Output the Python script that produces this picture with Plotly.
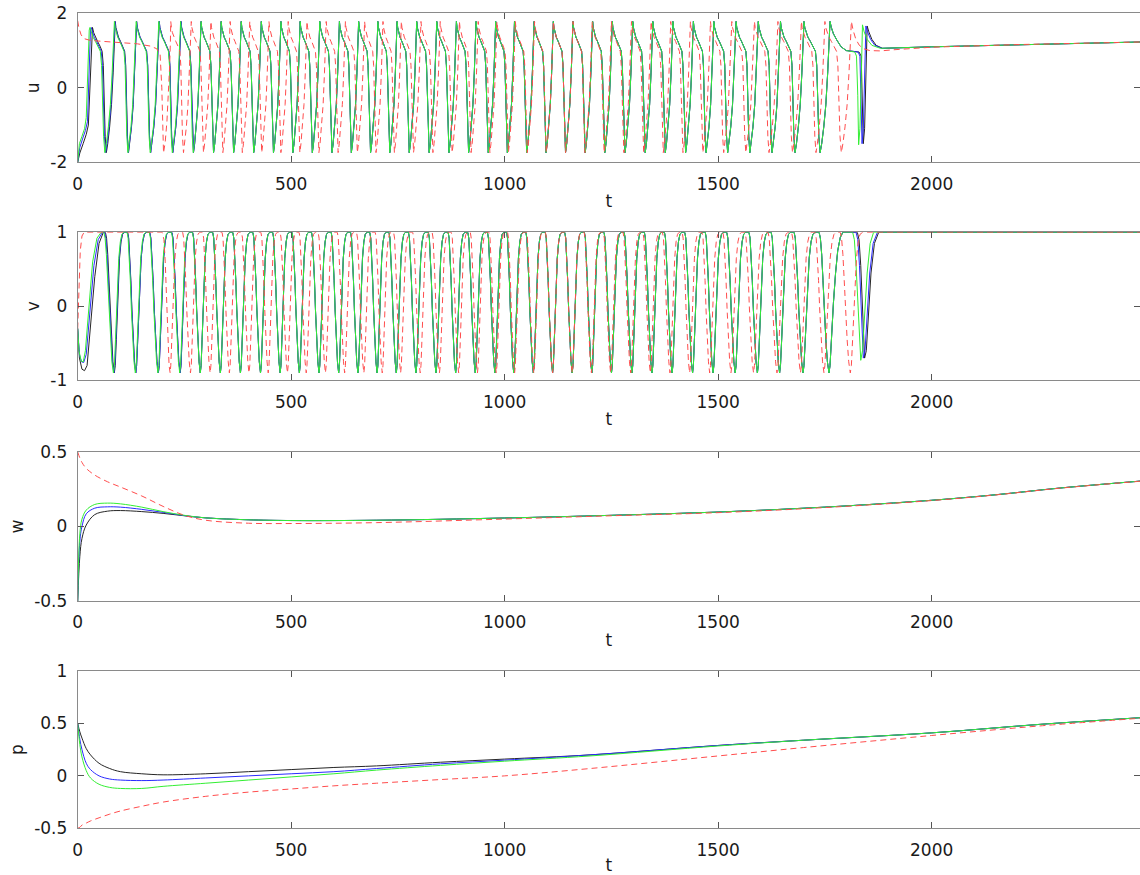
import plotly.graph_objects as go
from plotly.subplots import make_subplots

# ---------------- data ----------------
# times of the u maxima (one per oscillation cycle)
BLACK_PEAKS = [33, 88, 138, 191, 242, 289, 336, 383, 430, 476, 521, 567, 613, 658, 703, 748, 794, 841,
               887, 933, 979, 1023, 1069, 1114, 1160, 1206, 1252, 1300, 1347, 1394, 1442, 1490, 1542,
               1594, 1646, 1701, 1762]
BLUE_PEAKS = [30, 87, 138, 191, 242, 289, 336, 383, 430, 476, 521, 567, 613, 658, 703, 748, 794, 841,
              887, 933, 979, 1023, 1069, 1114, 1160, 1206, 1252, 1300, 1347, 1394, 1442, 1490, 1542,
              1594, 1646, 1701, 1762]
GREEN_PEAKS = [27, 86, 137, 190, 241, 289, 336, 383, 430, 476, 521, 567, 613, 658, 703, 748, 794, 841,
               887, 933, 979, 1023, 1069, 1114, 1160, 1206, 1252, 1300, 1347, 1394, 1442, 1490, 1542,
               1594, 1646, 1701, 1762]
RED_PEAKS = [218, 266, 312, 357, 403, 448, 493, 537, 582, 627, 672, 715, 758, 804, 849, 894, 938, 982,
             1025, 1070, 1114, 1160, 1205, 1250, 1297, 1343, 1389, 1435, 1482, 1532, 1585, 1640, 1695,
             1750, 1812]

# one oscillation cycle (phase 0 = u maximum, phase 1 = next u maximum)
U_CYCLE_PHASE = [0.00, 0.03, 0.08, 0.15, 0.25, 0.35, 0.44, 0.49, 0.53, 0.57, 0.62, 0.68, 0.76, 0.84, 0.91, 0.96, 1.00]
U_CYCLE_VALUE = [1.78, 1.62, 1.48, 1.36, 1.24, 1.12, 0.98, 0.60, -0.40, -1.30, -1.74, -1.50, -1.05, -0.45, 0.40, 1.20, 1.78]
V_CYCLE_PHASE = [0.00, 0.05, 0.10, 0.15, 0.20, 0.27, 0.34, 0.42, 0.58, 0.63, 0.68, 0.73, 0.78, 0.84, 0.90, 0.96, 1.00]
V_CYCLE_VALUE = [-0.80, -0.45, -0.05, 0.35, 0.65, 0.87, 0.97, 1.00, 1.00, 0.92, 0.70, 0.35, -0.05, -0.45, -0.75, -0.90, -0.80]

# start transients
BLACK_U_START_T = [0, 5, 13, 20, 25, 29, 33]
BLACK_U_START = [-2.0, -1.75, -1.49, -1.25, -1.0, 0.3, 1.6]
BLUE_U_START_T = [0, 5, 12, 18, 23, 26, 30]
BLUE_U_START = [-2.0, -1.6, -1.35, -1.15, -0.9, 0.3, 1.58]
GREEN_U_START_T = [0, 4, 10, 16, 20, 23, 27]
GREEN_U_START = [-2.0, -1.5, -1.3, -1.1, -0.8, 0.4, 1.55]
RED_U_START_T = [0, 3, 8, 15, 30, 60, 100, 140, 170, 185, 193, 197, 201, 205, 209, 212, 215, 217, 218]
RED_U_START = [1.8, 1.6, 1.42, 1.32, 1.27, 1.25, 1.22, 1.18, 1.12, 1.05, 0.9, 0.0, -1.75, -1.45, -0.9, -0.3, 0.5, 1.2, 1.78]

BLACK_V_START_T = [0, 4, 10, 16, 22, 30, 40, 50, 60]
BLACK_V_START = [-0.3, -0.7, -0.85, -0.87, -0.8, -0.3, 0.4, 0.85, 1.0]
BLUE_V_START_T = [0, 4, 9, 14, 20, 28, 38, 48, 58]
BLUE_V_START = [-0.3, -0.65, -0.75, -0.76, -0.65, -0.1, 0.55, 0.9, 1.0]
GREEN_V_START_T = [0, 3, 8, 13, 18, 26, 35, 45, 55]
GREEN_V_START = [-0.3, -0.6, -0.74, -0.75, -0.6, 0.0, 0.6, 0.92, 1.0]
RED_V_START_T = [0, 3, 6, 10, 15, 198, 202, 205, 208, 211, 214, 216.5, 218]
RED_V_START = [-0.3, 0.3, 0.75, 0.95, 1.0, 1.0, 0.9, 0.6, 0.1, -0.4, -0.8, -0.9, -0.8]

# end transients
BLACK_U_TAIL_T = [1762, 1765, 1770, 1778, 1788, 1800, 1815, 1830, 1835, 1838, 1840, 1843, 1846, 1849, 1853, 1860, 1870, 1885, 2000, 2200, 2490]
BLACK_U_TAIL = [1.78, 1.62, 1.45, 1.28, 1.1, 1.0, 0.98, 0.96, 0.85, -0.2, -1.5, -1.1, 0.2, 1.66, 1.5, 1.3, 1.14, 1.06, 1.1, 1.16, 1.23]
BLUE_U_TAIL_T = [1762, 1765, 1770, 1778, 1788, 1800, 1815, 1828, 1832, 1835, 1837, 1840, 1843, 1846, 1850, 1857, 1867, 1883, 2000, 2200, 2490]
BLUE_U_TAIL = [1.78, 1.62, 1.45, 1.28, 1.1, 1.0, 0.98, 0.96, 0.85, -0.2, -1.5, -1.1, 0.2, 1.66, 1.5, 1.3, 1.14, 1.06, 1.1, 1.16, 1.23]
GREEN_U_TAIL_T = [1762, 1765, 1770, 1778, 1788, 1800, 1812, 1820, 1824, 1827, 1829, 1832, 1835, 1838, 1842, 1849, 1860, 1880, 2000, 2200, 2490]
GREEN_U_TAIL = [1.78, 1.62, 1.45, 1.28, 1.1, 1.0, 0.98, 0.96, 0.85, -0.2, -1.53, -1.1, 0.2, 1.69, 1.5, 1.3, 1.14, 1.06, 1.1, 1.16, 1.23]
RED_U_TAIL_T = [1812, 1816, 1822, 1830, 1840, 1855, 1880, 1910, 1950, 2000, 2200, 2490]
RED_U_TAIL = [1.78, 1.55, 1.32, 1.15, 1.05, 1.0, 0.99, 1.02, 1.06, 1.09, 1.16, 1.23]

BLACK_V_TAIL_T = [1762, 1765, 1770, 1775, 1780, 1786, 1792, 1826, 1830, 1834, 1838, 1843, 1847, 1852, 1858, 1866, 1876, 2490]
BLACK_V_TAIL = [-0.8, -0.45, 0.05, 0.45, 0.75, 0.93, 1.0, 1.0, 0.9, 0.55, 0.0, -0.7, -0.6, -0.1, 0.45, 0.85, 1.0, 1.0]
BLUE_V_TAIL_T = [1762, 1765, 1770, 1775, 1780, 1786, 1792, 1823, 1827, 1831, 1835, 1840, 1844, 1849, 1855, 1863, 1873, 2490]
BLUE_V_TAIL = [-0.8, -0.45, 0.05, 0.45, 0.75, 0.93, 1.0, 1.0, 0.9, 0.55, 0.0, -0.7, -0.6, -0.1, 0.45, 0.85, 1.0, 1.0]
GREEN_V_TAIL_T = [1762, 1765, 1770, 1775, 1780, 1786, 1792, 1815, 1819, 1823, 1827, 1834, 1838, 1843, 1849, 1856, 1864, 2490]
GREEN_V_TAIL = [-0.8, -0.45, 0.05, 0.45, 0.75, 0.93, 1.0, 1.0, 0.9, 0.55, 0.0, -0.73, -0.6, -0.1, 0.45, 0.85, 1.0, 1.0]
RED_V_TAIL_T = [1812, 1815, 1818, 1821, 1824, 1828, 1832, 1838, 2490]
RED_V_TAIL = [-0.8, -0.45, -0.05, 0.35, 0.65, 0.87, 0.97, 1.0, 1.0]

# w and p (smooth)
W_T = [0, 5, 10, 20, 40, 70, 100, 150, 200, 250, 300, 400, 500, 700, 1000, 1250, 1500, 1750, 2000, 2150, 2300, 2490]
BLACK_W = [-0.5, -0.2, -0.08, 0.01, 0.08, 0.103, 0.107, 0.1, 0.088, 0.072, 0.058, 0.045, 0.04, 0.042, 0.057, 0.075, 0.097, 0.13, 0.176, 0.213, 0.258, 0.305]
BLUE_W = [-0.5, -0.1, 0.0, 0.085, 0.123, 0.132, 0.13, 0.115, 0.095, 0.073, 0.058, 0.045, 0.04, 0.042, 0.057, 0.075, 0.097, 0.13, 0.176, 0.213, 0.258, 0.305]
GREEN_W = [-0.5, -0.05, 0.05, 0.11, 0.148, 0.157, 0.152, 0.13, 0.1, 0.075, 0.058, 0.045, 0.04, 0.042, 0.057, 0.075, 0.097, 0.13, 0.176, 0.213, 0.258, 0.305]
RED_W = [0.5, 0.46, 0.43, 0.39, 0.345, 0.30, 0.265, 0.205, 0.135, 0.075, 0.042, 0.022, 0.02, 0.026, 0.05, 0.072, 0.093, 0.127, 0.174, 0.212, 0.257, 0.304]

P_T = [0, 5, 10, 20, 30, 50, 75, 100, 150, 200, 300, 400, 500, 600, 700, 850, 1000, 1200, 1500, 1700, 2000, 2250, 2490]
BLACK_P = [0.5, 0.42, 0.36, 0.26, 0.2, 0.12, 0.07, 0.04, 0.02, 0.01, 0.02, 0.04, 0.06, 0.08, 0.095, 0.13, 0.16, 0.2, 0.29, 0.34, 0.41, 0.49, 0.555]
BLUE_P = [0.5, 0.35, 0.25, 0.12, 0.06, 0.0, -0.03, -0.04, -0.045, -0.04, -0.02, 0.0, 0.02, 0.04, 0.07, 0.115, 0.15, 0.2, 0.29, 0.34, 0.41, 0.49, 0.555]
GREEN_P = [0.5, 0.3, 0.18, 0.05, -0.02, -0.08, -0.11, -0.12, -0.12, -0.1, -0.07, -0.04, -0.01, 0.02, 0.055, 0.1, 0.14, 0.19, 0.285, 0.34, 0.41, 0.49, 0.555]
RED_P = [-0.5, -0.49, -0.47, -0.45, -0.43, -0.40, -0.365, -0.335, -0.29, -0.25, -0.195, -0.155, -0.125, -0.095, -0.07, -0.035, 0.0, 0.07, 0.19, 0.27, 0.385, 0.475, 0.55]

X_TICKS = [0, 500, 1000, 1500, 2000]
Y_TICKS = [[-2, 0, 2], [-1, 0, 1], [-0.5, 0, 0.5], [-0.5, 0, 0.5, 1]]
Y_TICK_TEXT = [["-2", "0", "2"], ["-1", "0", "1"], ["-0.5", "0", "0.5"], ["-0.5", "0", "0.5", "1"]]
Y_RANGES = [[-2, 2], [-1, 1], [-0.5, 0.5], [-0.5, 1]]
Y_LABELS = ["u", "v", "w", "p"]
X_RANGE = [0, 2488]


def assemble(peaks, cyc_ph, cyc_val, st_t, st_v, tl_t, tl_v):
    ts, vs = list(st_t), list(st_v)
    t_from, t_to = st_t[-1], tl_t[0]
    for a, b in zip(peaks[:-1], peaks[1:]):
        for ph, val in zip(cyc_ph[:-1], cyc_val[:-1]):
            t = a + ph * (b - a)
            if t_from < t < t_to:
                ts.append(t)
                vs.append(val)
    ts += list(tl_t)
    vs += list(tl_v)
    return ts, vs


COLORS = {"k": "#262626", "b": "#2b2bff", "g": "#33ee33", "r": "#ff4d4d"}

series = [
    ("k", BLACK_PEAKS, BLACK_U_START_T, BLACK_U_START, BLACK_U_TAIL_T, BLACK_U_TAIL,
     BLACK_V_START_T, BLACK_V_START, BLACK_V_TAIL_T, BLACK_V_TAIL, BLACK_W, BLACK_P),
    ("b", BLUE_PEAKS, BLUE_U_START_T, BLUE_U_START, BLUE_U_TAIL_T, BLUE_U_TAIL,
     BLUE_V_START_T, BLUE_V_START, BLUE_V_TAIL_T, BLUE_V_TAIL, BLUE_W, BLUE_P),
    ("g", GREEN_PEAKS, GREEN_U_START_T, GREEN_U_START, GREEN_U_TAIL_T, GREEN_U_TAIL,
     GREEN_V_START_T, GREEN_V_START, GREEN_V_TAIL_T, GREEN_V_TAIL, GREEN_W, GREEN_P),
    ("r", RED_PEAKS, RED_U_START_T, RED_U_START, RED_U_TAIL_T, RED_U_TAIL,
     RED_V_START_T, RED_V_START, RED_V_TAIL_T, RED_V_TAIL, RED_W, RED_P),
]

fig = make_subplots(rows=4, cols=1)

for (c, peaks, ust, usv, utt, utv, vst, vsv, vtt, vtv, w, p) in series:
    line = dict(color=COLORS[c], width=1)
    if c == "r":
        line["dash"] = "6px,4px"
    ut, uv = assemble(peaks, U_CYCLE_PHASE, U_CYCLE_VALUE, ust, usv, utt, utv)
    vt, vv = assemble(peaks, V_CYCLE_PHASE, V_CYCLE_VALUE, vst, vsv, vtt, vtv)
    fig.add_trace(go.Scatter(x=ut, y=uv, mode="lines", line=line, showlegend=False), row=1, col=1)
    fig.add_trace(go.Scatter(x=vt, y=vv, mode="lines", line=line, showlegend=False), row=2, col=1)
    fig.add_trace(go.Scatter(x=W_T, y=w, mode="lines", line=dict(line, shape="spline"), showlegend=False), row=3, col=1)
    fig.add_trace(go.Scatter(x=P_T, y=p, mode="lines", line=dict(line, shape="spline"), showlegend=False), row=4, col=1)

H = 875.0
panels_px = [(13.3, 162.3), (232.3, 380.3), (452.0, 601.0), (671.0, 828.3)]
FONT = dict(family="DejaVu Sans, Liberation Sans, Arial", size=17, color="#1a1a1a")

for i, (top, bot) in enumerate(panels_px):
    n = "" if i == 0 else str(i + 1)
    fig.layout["yaxis" + n].update(
        domain=[1 - bot / H, 1 - top / H], range=Y_RANGES[i],
        tickvals=Y_TICKS[i], ticktext=Y_TICK_TEXT[i],
        showline=True, mirror="ticks", linecolor="#8a8a8a", linewidth=1,
        ticks="inside", ticklen=6, tickcolor="#555555", showgrid=False, zeroline=False,
        tickfont=FONT, ticklabelstandoff=6, automargin=False,
        title=dict(text=Y_LABELS[i], font=FONT, standoff=6),
    )
    fig.layout["xaxis" + n].update(
        domain=[77.7 / 1140, 1.0], range=X_RANGE, tickvals=X_TICKS,
        showline=True, mirror="ticks", linecolor="#8a8a8a", linewidth=1,
        ticks="inside", ticklen=6, tickcolor="#555555", showgrid=False, zeroline=False,
        tickfont=FONT, ticklabelstandoff=6, automargin=False,
        title=dict(text="t", font=FONT, standoff=2),
    )

fig.update_layout(
    width=1140, height=875, margin=dict(l=0, r=0, t=0, b=0, autoexpand=False),
    plot_bgcolor="white", paper_bgcolor="white",
)

fig.write_html("out.html")
